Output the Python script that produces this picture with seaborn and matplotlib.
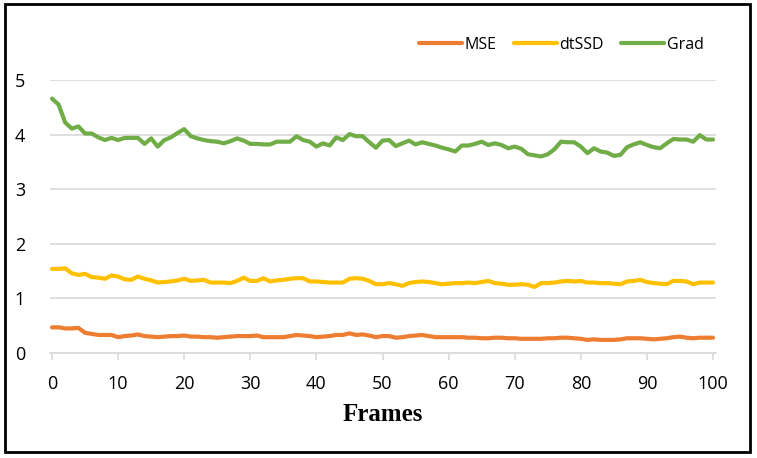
import matplotlib
matplotlib.use("Agg")
import matplotlib.pyplot as plt
import seaborn as sns
import pandas as pd
from matplotlib.patches import Rectangle

frames = list(range(0, 101))

mse = [0.47, 0.47, 0.45, 0.45, 0.46, 0.37, 0.35, 0.33, 0.33, 0.33,
       0.29, 0.31, 0.32, 0.34, 0.31, 0.30, 0.29, 0.30, 0.31, 0.31,
       0.32, 0.30, 0.30, 0.29, 0.29, 0.28, 0.29, 0.30, 0.31, 0.31,
       0.31, 0.32, 0.29, 0.29, 0.29, 0.29, 0.31, 0.33, 0.32, 0.31,
       0.29, 0.30, 0.31, 0.33, 0.33, 0.36, 0.33, 0.34, 0.32, 0.29,
       0.31, 0.31, 0.28, 0.29, 0.31, 0.32, 0.33, 0.31, 0.29, 0.29,
       0.29, 0.29, 0.29, 0.28, 0.28, 0.27, 0.27, 0.28, 0.28, 0.27,
       0.27, 0.26, 0.26, 0.26, 0.26, 0.27, 0.27, 0.28, 0.28, 0.27,
       0.26, 0.24, 0.25, 0.24, 0.24, 0.24, 0.25, 0.27, 0.27, 0.27,
       0.26, 0.25, 0.26, 0.27, 0.29, 0.30, 0.28, 0.27, 0.28, 0.28,
       0.28]

dtssd = [1.54, 1.54, 1.55, 1.46, 1.43, 1.45, 1.39, 1.38, 1.36, 1.42,
         1.40, 1.35, 1.34, 1.40, 1.36, 1.33, 1.29, 1.30, 1.31, 1.33,
         1.36, 1.32, 1.33, 1.34, 1.29, 1.29, 1.29, 1.28, 1.32, 1.38,
         1.32, 1.32, 1.37, 1.31, 1.33, 1.34, 1.36, 1.37, 1.37, 1.31,
         1.31, 1.30, 1.29, 1.29, 1.29, 1.36, 1.37, 1.36, 1.32, 1.26,
         1.26, 1.28, 1.26, 1.23, 1.28, 1.30, 1.31, 1.30, 1.28, 1.26,
         1.27, 1.28, 1.28, 1.29, 1.28, 1.30, 1.32, 1.28, 1.27, 1.25,
         1.25, 1.26, 1.25, 1.21, 1.28, 1.28, 1.29, 1.31, 1.32, 1.31,
         1.32, 1.29, 1.29, 1.28, 1.28, 1.27, 1.26, 1.31, 1.32, 1.34,
         1.30, 1.28, 1.27, 1.26, 1.32, 1.32, 1.31, 1.26, 1.29, 1.29,
         1.29]

grad = [4.66, 4.55, 4.22, 4.11, 4.15, 4.02, 4.02, 3.95, 3.90, 3.94,
        3.90, 3.94, 3.94, 3.94, 3.83, 3.93, 3.78, 3.90, 3.95, 4.03,
        4.10, 3.97, 3.93, 3.90, 3.88, 3.87, 3.84, 3.88, 3.93, 3.89,
        3.83, 3.83, 3.82, 3.82, 3.87, 3.87, 3.87, 3.97, 3.90, 3.87,
        3.78, 3.84, 3.80, 3.95, 3.90, 4.01, 3.97, 3.97, 3.86, 3.76,
        3.89, 3.90, 3.79, 3.84, 3.89, 3.82, 3.86, 3.83, 3.80, 3.76,
        3.73, 3.69, 3.80, 3.80, 3.83, 3.87, 3.81, 3.84, 3.81, 3.75,
        3.78, 3.74, 3.64, 3.62, 3.60, 3.64, 3.73, 3.87, 3.86, 3.86,
        3.78, 3.66, 3.75, 3.69, 3.67, 3.61, 3.63, 3.77, 3.82, 3.86,
        3.81, 3.77, 3.75, 3.84, 3.92, 3.91, 3.91, 3.87, 3.99, 3.91,
        3.91]

series_names = ["MSE", "dtSSD", "Grad"]
colors = ["#ED7D31", "#FFC000", "#70AD47"]
x_ticks = list(range(0, 101, 10))
y_ticks = [0, 1, 2, 3, 4, 5]

df = pd.DataFrame({"Frames": frames, "MSE": mse, "dtSSD": dtssd, "Grad": grad})
long = df.melt(id_vars="Frames", var_name="Series", value_name="Value")

sns.set_theme(style="white")
plt.rcParams["font.family"] = ["Open Sans", "DejaVu Sans"]
plt.rcParams["text.color"] = "black"

W, H = 757, 458
fig = plt.figure(figsize=(W / 100, H / 100), dpi=100)
ax = fig.add_axes([50 / W, 1 - 353 / H, (716 - 50) / W, (353 - 80) / H])

sns.lineplot(data=long, x="Frames", y="Value", hue="Series",
             hue_order=series_names, palette=colors, linewidth=3.0,
             ax=ax, legend=False, solid_capstyle="round")

ax.set_xlim(-0.3, 100.45)
ax.set_ylim(0, 5)
ax.set_xticks(x_ticks)
ax.set_yticks(y_ticks)
ax.yaxis.grid(True, color="#D9D9D9", linewidth=1.2)
ax.set_axisbelow(True)
for s in ["top", "right", "left"]:
    ax.spines[s].set_visible(False)
ax.spines["bottom"].set_color("#D9D9D9")
ax.spines["bottom"].set_linewidth(1.2)
ax.tick_params(axis="x", length=5, width=1.2, color="#D9D9D9", pad=11,
               labelsize=13, labelcolor="#000000", bottom=True)
ax.tick_params(axis="y", length=0, pad=18, labelsize=13, labelcolor="#000000")
ax.set_ylabel("")
ax.set_xlabel("Frames", fontsize=18, fontweight="bold", color="black",
              family=["Liberation Serif", "DejaVu Serif"], labelpad=7)

handles = [plt.Line2D([], [], color=c, linewidth=3.0, solid_capstyle="round")
           for c in colors]
fig.legend(handles, series_names, loc="center right",
           bbox_to_anchor=(718 / W, 1 - 45 / H), ncol=3, frameon=False,
           fontsize=11.5, handlelength=2.7, handletextpad=0.15,
           columnspacing=1.1, labelcolor="black")

fig.patches.append(Rectangle((5 / W, 1 - 452 / H), (750 - 5) / W, (452 - 4) / H,
                             transform=fig.transFigure, fill=False,
                             edgecolor="black", linewidth=2))

fig.savefig("out.png", dpi=100, facecolor="white")
